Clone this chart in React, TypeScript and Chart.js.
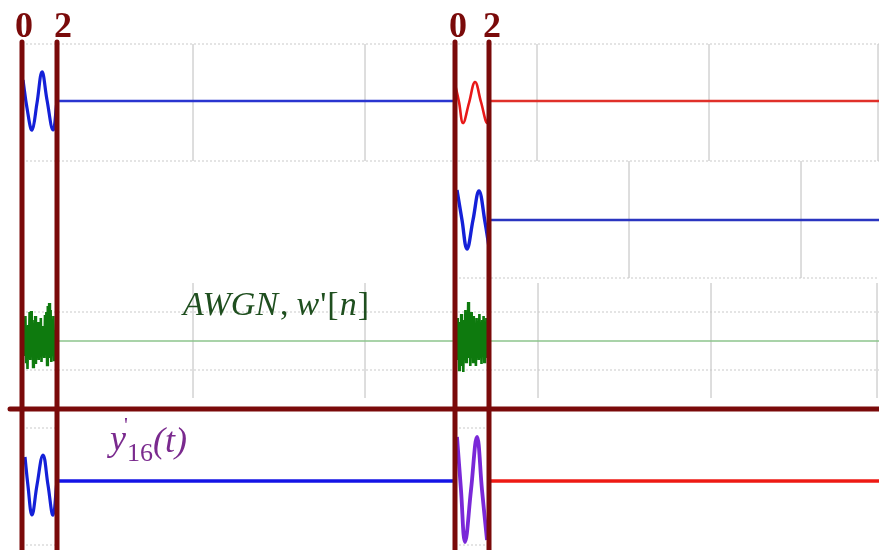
import { useEffect, useRef } from "react";
import { Chart, registerables } from "chart.js";

Chart.register(...registerables);

// ---- Data (schematic units: sample index along x, level along y, y grows downward) ----
const markerTimes = [22, 57, 455, 489];
const markerLabels = ["0", "2", "0", "2"];
const markerLabelX = [24, 63, 458, 492];
const markerTop = 42;
const markerBottom = 552;
const dividerLevel = 409;

// row 1 : original symbol (blue), then next symbol (red)
const row1Blue: [number, number][] = [[23, 80], [27, 108], [32, 130], [37, 103], [42, 72], [47, 100], [53, 130], [57, 101]];
const row1BlueTail: [number, number][] = [[57, 101], [455, 101]];
const row1Red: [number, number][] = [[455, 84], [459, 102], [463, 123], [469, 103], [475, 82], [481, 102], [487, 123], [489, 101]];
const row1RedTail: [number, number][] = [[489, 101], [879, 101]];

// row 2 : delayed symbol (blue)
const row2Blue: [number, number][] = [[457, 190], [462, 220], [467, 249], [473, 220], [479, 191], [485, 222], [489, 247]];
const row2BlueTail: [number, number][] = [[489, 220], [879, 220]];

// row 3 : AWGN
const noiseBase: [number, number][] = [[22, 341], [879, 341]];
const noiseLeft: [number, number][] = [
  [24, 322], [24.7, 356], [25.4, 316], [26.1, 362], [26.8, 330], [27.5, 369], [28.2, 325], [28.9, 352],
  [29.6, 312], [30.3, 360], [31, 311], [31.7, 350], [32.4, 320], [33.1, 367], [33.8, 328], [34.5, 356],
  [35.2, 316], [35.9, 364], [36.6, 330], [37.3, 348], [38, 322], [38.7, 360], [39.4, 334], [40.1, 352],
  [40.8, 318], [41.5, 362], [42.2, 326], [42.9, 346], [43.6, 336], [44.3, 358], [45, 315], [45.7, 350],
  [46.4, 312], [47.1, 365], [47.8, 306], [48.5, 356], [49.2, 303], [49.9, 358], [50.6, 310], [51.3, 362],
  [52, 322], [52.7, 352], [53.4, 316], [54.1, 360], [54.8, 330],
];
const noiseRight: [number, number][] = [
  [457, 318], [457.7, 360], [458.4, 325], [459.1, 370], [459.8, 322], [460.5, 356], [461.2, 314], [461.9, 366],
  [462.6, 332], [463.3, 372], [464, 320], [464.7, 352], [465.4, 310], [466.1, 362], [466.8, 328], [467.5, 348],
  [468.2, 302], [468.9, 358], [469.6, 318], [470.3, 366], [471, 312], [471.7, 350], [472.4, 322], [473.1, 362],
  [473.8, 316], [474.5, 356], [475.2, 328], [475.9, 366], [476.6, 318], [477.3, 352], [478, 326], [478.7, 360],
  [479.4, 314], [480.1, 356], [480.8, 330], [481.5, 364], [482.2, 320], [482.9, 350], [483.6, 316], [484.3, 362],
  [485, 326], [485.7, 354], [486.4, 318], [487.1, 358],
];

// row 4 : received signal y'16(t)
const row4Blue: [number, number][] = [[25, 457], [28, 486], [32, 515], [37, 485], [43, 455], [48, 485], [53, 515], [57, 481]];
const row4BlueTail: [number, number][] = [[57, 481], [455, 481]];
const row4Purple: [number, number][] = [[457, 437], [461, 490], [465, 542], [471, 490], [477, 437], [482, 490], [487, 540]];
const row4RedTail: [number, number][] = [[489, 481], [879, 481]];

// faint grid: [level, from, to] and [sample, from, to]
const hGridDotted: [number, number, number][] = [
  [44, 22, 879], [161, 22, 879], [278, 455, 879], [312, 22, 879], [370, 22, 879],
  [428, 22, 57], [545, 22, 57], [428, 455, 489], [545, 455, 489],
];
const vGrid: [number, number, number][] = [
  [193, 44, 161], [365, 44, 161], [537, 44, 161], [709, 44, 161], [878, 44, 161],
  [629, 161, 278], [801, 161, 278],
  [193, 283, 398], [365, 283, 398], [538, 283, 398], [711, 283, 398], [877, 283, 398],
];

const pts = (a: [number, number][]) => a.map(([x, y]) => ({ x, y }));

function line(data: [number, number][], color: string, width: number, order: number, extra: any = {}) {
  return {
    type: "line" as const,
    data: pts(data),
    borderColor: color,
    borderWidth: width,
    pointRadius: 0,
    tension: 0,
    fill: false,
    order,
    clip: false as any,
    ...extra,
  };
}

const textPlugin = {
  id: "schematicText",
  afterDatasetsDraw(chart: any) {
    const { ctx, scales } = chart;
    const sx = (v: number) => scales.x.getPixelForValue(v);
    const sy = (v: number) => scales.y.getPixelForValue(v);
    ctx.save();
    // marker labels
    ctx.fillStyle = "#7a0a0a";
    ctx.font = "bold 36px 'Liberation Serif', serif";
    ctx.textAlign = "center";
    ctx.textBaseline = "alphabetic";
    markerLabels.forEach((l, i) => ctx.fillText(l, sx(markerLabelX[i]), sy(37)));

    // AWGN label
    ctx.textAlign = "left";
    ctx.fillStyle = "#1f4f1f";
    const base = sy(315);
    let cx = sx(183);
    const segs: [string, string, number][] = [
      ["AWGN", "italic", 2],
      [",", "normal", 8],
      ["w", "italic", 1],
      ["'", "normal", 1],
      ["[", "normal", 1],
      ["n", "italic", 1],
      ["]", "normal", 0],
    ];
    segs.forEach(([s, st, gap]) => {
      ctx.font = `${st} 34px 'Liberation Serif', serif`;
      ctx.fillText(s, cx, base);
      cx += ctx.measureText(s).width + gap;
    });

    // y'16(t)
    ctx.fillStyle = "#7a2a8e";
    ctx.font = "italic 36px 'Liberation Serif', serif";
    ctx.fillText("y", sx(110), sy(450));
    ctx.font = "22px 'Liberation Serif', serif";
    ctx.fillText("'", sx(124), sy(432));
    ctx.font = "26px 'Liberation Serif', serif";
    ctx.fillText("16", sx(127), sy(461));
    ctx.font = "italic 36px 'Liberation Serif', serif";
    ctx.fillText("(t)", sx(153), sy(452));
    ctx.restore();
  },
};

export default function App() {
  const ref = useRef<HTMLCanvasElement | null>(null);
  useEffect(() => {
    document.body.style.margin = "0";
    const datasets: any[] = [];
    hGridDotted.forEach(([yv, a, b]) =>
      datasets.push(line([[a, yv], [b, yv]], "#c9c9c9", 1, 20, { borderDash: [2, 2] }))
    );
    vGrid.forEach(([xv, a, b]) => datasets.push(line([[xv, a], [xv, b]], "#d9d9d9", 1, 20)));

    datasets.push(line(noiseBase, "#8cc48c", 1.5, 15));
    datasets.push(line(row1BlueTail, "#2a35d0", 2.4, 10));
    datasets.push(line(row1RedTail, "#e0302a", 2.4, 10));
    datasets.push(line(row2BlueTail, "#2a35c0", 2.4, 10));
    datasets.push(line(row4BlueTail, "#1414e6", 3.5, 10));
    datasets.push(line(row4RedTail, "#ee1a14", 3.5, 10));

    datasets.push(line(row1Blue, "#1420d8", 3.2, 8, { tension: 0.4 }));
    datasets.push(line(row1Red, "#e81818", 2.6, 8, { tension: 0.4 }));
    datasets.push(line(row2Blue, "#1420d8", 3.4, 8, { tension: 0.4 }));
    datasets.push(line(row4Blue, "#1420d8", 3.2, 8, { tension: 0.4 }));
    datasets.push(line(row4Purple, "#7a28d8", 3.8, 8, { tension: 0.4 }));
    datasets.push(line(noiseLeft, "#0e7a0e", 2.6, 8));
    datasets.push(line(noiseRight, "#0e7a0e", 2.6, 8));

    datasets.push(line([[10, dividerLevel], [879, dividerLevel]], "#7a0a0a", 5, 1, { borderCapStyle: "round" }));
    markerTimes.forEach((t) =>
      datasets.push(line([[t, markerTop], [t, markerBottom]], "#7a0a0a", 5, 1, { borderCapStyle: "round" }))
    );

    const chart = new Chart(ref.current as HTMLCanvasElement, {
      type: "line",
      data: { datasets },
      options: {
        animation: false,
        responsive: false,
        maintainAspectRatio: false,
        layout: { padding: 0 },
        plugins: { legend: { display: false }, tooltip: { enabled: false } },
        events: [],
        scales: {
          x: { type: "linear", min: 0, max: 879, display: false },
          y: { type: "linear", min: 0, max: 550, reverse: true, display: false },
        },
      },
      plugins: [textPlugin],
    });
    return () => chart.destroy();
  }, []);
  return (
    <div style={{ width: 879, height: 550, background: "#fff" }}>
      <canvas ref={ref} width={879} height={550} style={{ display: "block" }} />
    </div>
  );
}
